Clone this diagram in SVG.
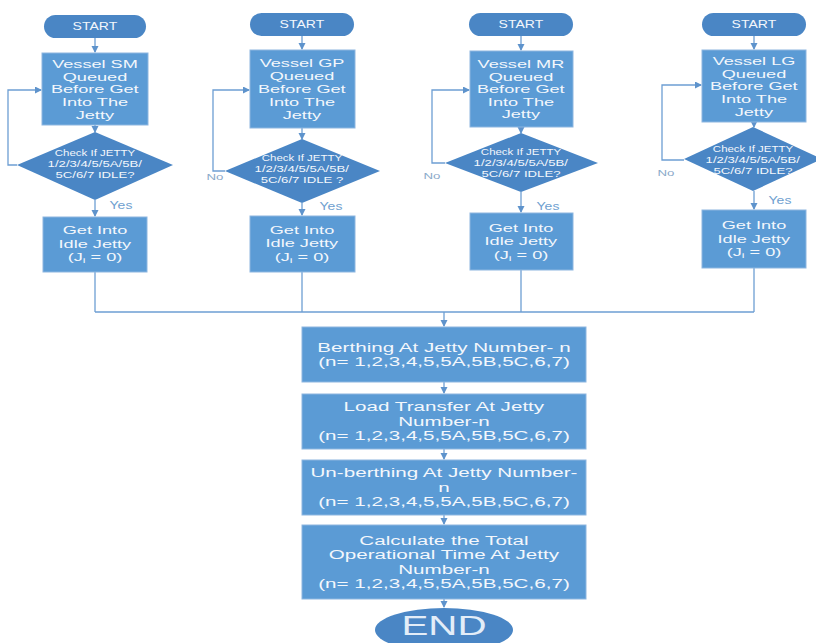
<svg xmlns="http://www.w3.org/2000/svg" width="816" height="643" viewBox="0 0 816 643">
<style>
.box{fill:#5B9BD5;stroke:#8DB6E0;stroke-width:1}
.term{fill:#4A86C5}
.dia{fill:#4A86C5}
.c{fill:none;stroke:#6D9ED3;stroke-width:1.3}
text{font-family:"Liberation Sans",Arial,sans-serif;text-anchor:middle;fill:#F3F7FC}
.s{transform-box:fill-box;transform-origin:center;transform:scaleX(1.65)}
.s2{transform-box:fill-box;transform-origin:center;transform:scaleX(1.4)}
.d1{transform-box:fill-box;transform-origin:center;transform:scaleX(1.35)}
.d2{transform-box:fill-box;transform-origin:center;transform:scaleX(1.55)}
.st{font-size:10px}
.bt{font-size:11px}
.gt{font-size:11px}
.dt{font-size:8.5px}
.mt{font-size:12.5px}
.lbl{font-size:10px;fill:#6F9FD0}
.no{font-size:9.5px;fill:#8AA9C9}
.end{font-size:28px;fill:#E3EDF8;transform-box:fill-box;transform-origin:center;transform:scaleX(1.44)}
</style>
<defs>
<marker id="ah" markerUnits="userSpaceOnUse" markerWidth="8" markerHeight="8" refX="6" refY="3.5" orient="auto">
<path d="M0,0 L7,3.5 L0,7 z" fill="#5E93CC"/>
</marker>
</defs>
<rect width="816" height="643" fill="#FFFFFF"/>

<g id="connectors">
<line class="c" x1="95" y1="38" x2="95" y2="52" marker-end="url(#ah)"/>
<line class="c" x1="95" y1="125" x2="95" y2="132" marker-end="url(#ah)"/>
<line class="c" x1="95" y1="200" x2="95" y2="216" marker-end="url(#ah)"/>
<polyline class="c" points="17,165 8,165 8,90 41,90" marker-end="url(#ah)"/>
<line class="c" x1="95" y1="272" x2="95" y2="312"/>
<line class="c" x1="302" y1="36" x2="302" y2="49" marker-end="url(#ah)"/>
<line class="c" x1="302" y1="128" x2="302" y2="139" marker-end="url(#ah)"/>
<line class="c" x1="302" y1="203" x2="302" y2="215" marker-end="url(#ah)"/>
<polyline class="c" points="225,171 213,171 213,90 249,90" marker-end="url(#ah)"/>
<line class="c" x1="302" y1="272" x2="302" y2="312"/>
<line class="c" x1="521" y1="36" x2="521" y2="50" marker-end="url(#ah)"/>
<line class="c" x1="521" y1="127" x2="521" y2="133" marker-end="url(#ah)"/>
<line class="c" x1="521" y1="192" x2="521" y2="212" marker-end="url(#ah)"/>
<polyline class="c" points="445,163 432,163 432,90 469,90" marker-end="url(#ah)"/>
<line class="c" x1="521" y1="270" x2="521" y2="312"/>
<line class="c" x1="754" y1="36" x2="754" y2="49" marker-end="url(#ah)"/>
<line class="c" x1="754" y1="122" x2="754" y2="127" marker-end="url(#ah)"/>
<line class="c" x1="754" y1="191" x2="754" y2="209" marker-end="url(#ah)"/>
<polyline class="c" points="684,160 662,160 662,85 701,85" marker-end="url(#ah)"/>
<line class="c" x1="754" y1="268" x2="754" y2="312"/>
<line class="c" x1="95" y1="312" x2="754" y2="312"/>
<line class="c" x1="444" y1="312" x2="444" y2="326" marker-end="url(#ah)"/>
<line class="c" x1="444" y1="382" x2="444" y2="393" marker-end="url(#ah)"/>
<line class="c" x1="444" y1="449" x2="444" y2="459" marker-end="url(#ah)"/>
<line class="c" x1="444" y1="515" x2="444" y2="524" marker-end="url(#ah)"/>
<line class="c" x1="444" y1="599" x2="444" y2="607" marker-end="url(#ah)"/>
</g>

<g id="labels">
<text class="lbl s2" x="121" y="209">Yes</text>
<text class="lbl s2" x="331" y="210">Yes</text>
<text class="lbl s2" x="548" y="210">Yes</text>
<text class="lbl s2" x="780" y="204">Yes</text>
<text class="no s2" x="215" y="180">No</text>
<text class="no s2" x="432" y="179">No</text>
<text class="no s2" x="666" y="176">No</text>
</g>

<g id="start1"><rect class="term" x="44" y="15" width="102" height="23" rx="11.5"/><text class="st s2" x="95" y="30">START</text></g>
<g id="queue1"><rect class="box" x="42" y="53" width="106" height="72"/>
<text class="bt s" x="95" y="68">Vessel SM</text><text class="bt s" x="95" y="80.8">Queued</text><text class="bt s" x="95" y="93.5">Before Get</text><text class="bt s" x="95" y="106.3">Into The</text><text class="bt s" x="95" y="119">Jetty</text></g>
<g id="check1"><polygon class="dia" points="95,132 173,165 95,200 17,165"/>
<text class="dt d1" x="95" y="156">Check If JETTY</text><text class="dt d2" x="95" y="167">1/2/3/4/5/5A/5B/</text><text class="dt d2" x="95" y="178">5C/6/7 IDLE?</text></g>
<g id="idle1"><rect class="box" x="43" y="217" width="104" height="55"/>
<text class="gt s" x="95" y="234.5">Get Into</text><text class="gt s" x="95" y="248">Idle Jetty</text><text class="gt s" x="95" y="261.5">(J<tspan font-size="7.5" dy="2">i</tspan><tspan dy="-2"> = 0)</tspan></text></g>

<g id="start2"><rect class="term" x="250" y="13" width="104" height="23" rx="11.5"/><text class="st s2" x="302" y="28">START</text></g>
<g id="queue2"><rect class="box" x="250" y="50" width="105" height="78"/>
<text class="bt s" x="302" y="67.5">Vessel GP</text><text class="bt s" x="302" y="80.5">Queued</text><text class="bt s" x="302" y="93.5">Before Get</text><text class="bt s" x="302" y="106.5">Into The</text><text class="bt s" x="302" y="119.5">Jetty</text></g>
<g id="check2"><polygon class="dia" points="302,139 380,171 302,203 225,171"/>
<text class="dt d1" x="302" y="161">Check If JETTY</text><text class="dt d2" x="302" y="172">1/2/3/4/5/5A/5B/</text><text class="dt d2" x="302" y="183">5C/6/7 IDLE ?</text></g>
<g id="idle2"><rect class="box" x="250" y="216" width="105" height="56"/>
<text class="gt s" x="302" y="234">Get Into</text><text class="gt s" x="302" y="247.5">Idle Jetty</text><text class="gt s" x="302" y="261">(J<tspan font-size="7.5" dy="2">i</tspan><tspan dy="-2"> = 0)</tspan></text></g>

<g id="start3"><rect class="term" x="469" y="13" width="104" height="23" rx="11.5"/><text class="st s2" x="521" y="28">START</text></g>
<g id="queue3"><rect class="box" x="470" y="51" width="103" height="76"/>
<text class="bt s" x="521" y="68.5">Vessel MR</text><text class="bt s" x="521" y="81">Queued</text><text class="bt s" x="521" y="93.5">Before Get</text><text class="bt s" x="521" y="106">Into The</text><text class="bt s" x="521" y="118.5">Jetty</text></g>
<g id="check3"><polygon class="dia" points="521,133 598,163 521,192 445,163"/>
<text class="dt d1" x="521" y="155">Check If JETTY</text><text class="dt d2" x="521" y="166">1/2/3/4/5/5A/5B/</text><text class="dt d2" x="521" y="177">5C/6/7 IDLE?</text></g>
<g id="idle3"><rect class="box" x="470" y="213" width="103" height="57"/>
<text class="gt s" x="521" y="232">Get Into</text><text class="gt s" x="521" y="245.5">Idle Jetty</text><text class="gt s" x="521" y="259">(J<tspan font-size="7.5" dy="2">i</tspan><tspan dy="-2"> = 0)</tspan></text></g>

<g id="start4"><rect class="term" x="702" y="13" width="104" height="23" rx="11.5"/><text class="st s2" x="754" y="28">START</text></g>
<g id="queue4"><rect class="box" x="702" y="50" width="104" height="72"/>
<text class="bt s" x="754" y="65">Vessel LG</text><text class="bt s" x="754" y="77.8">Queued</text><text class="bt s" x="754" y="90.5">Before Get</text><text class="bt s" x="754" y="103.3">Into The</text><text class="bt s" x="754" y="116">Jetty</text></g>
<g id="check4"><polygon class="dia" points="753,127 822,159 753,191 684,159"/>
<text class="dt d1" x="753" y="152">Check If JETTY</text><text class="dt d2" x="753" y="163">1/2/3/4/5/5A/5B/</text><text class="dt d2" x="753" y="174">5C/6/7 IDLE?</text></g>
<g id="idle4"><rect class="box" x="702" y="210" width="104" height="58"/>
<text class="gt s" x="754" y="229.5">Get Into</text><text class="gt s" x="754" y="243">Idle Jetty</text><text class="gt s" x="754" y="256.5">(J<tspan font-size="7.5" dy="2">i</tspan><tspan dy="-2"> = 0)</tspan></text></g>

<g id="berthing"><rect class="box" x="302" y="327" width="284" height="55"/>
<text class="mt s" x="444" y="352">Berthing At Jetty Number- n</text><text class="mt s" x="444" y="366.5">(n= 1,2,3,4,5,5A,5B,5C,6,7)</text></g>
<g id="load"><rect class="box" x="302" y="394" width="284" height="55"/>
<text class="mt s" x="444" y="411.5">Load Transfer At Jetty</text><text class="mt s" x="444" y="426">Number-n</text><text class="mt s" x="444" y="440.5">(n= 1,2,3,4,5,5A,5B,5C,6,7)</text></g>
<g id="unberthing"><rect class="box" x="302" y="460" width="284" height="55"/>
<text class="mt s" x="444" y="477.5">Un-berthing At Jetty Number-</text><text class="mt s" x="444" y="492">n</text><text class="mt s" x="444" y="506.5">(n= 1,2,3,4,5,5A,5B,5C,6,7)</text></g>
<g id="calculate"><rect class="box" x="302" y="525" width="284" height="74"/>
<text class="mt s" x="444" y="545">Calculate the Total</text><text class="mt s" x="444" y="559.5">Operational Time At Jetty</text><text class="mt s" x="444" y="574">Number-n</text><text class="mt s" x="444" y="588.5">(n= 1,2,3,4,5,5A,5B,5C,6,7)</text></g>
<g id="end"><ellipse class="term" cx="444" cy="630" rx="69" ry="22"/><text class="end" x="444" y="635">END</text></g>
</svg>
